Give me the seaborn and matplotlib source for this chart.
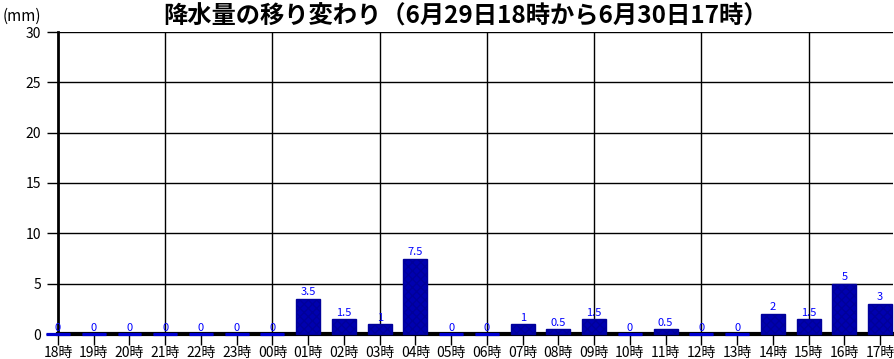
import matplotlib
matplotlib.use("Agg")
import matplotlib.pyplot as plt
import seaborn as sns
import pandas as pd

hours = ["18時", "19時", "20時", "21時", "22時", "23時", "00時", "01時", "02時", "03時",
         "04時", "05時", "06時", "07時", "08時", "09時", "10時", "11時", "12時", "13時",
         "14時", "15時", "16時", "17時"]
rain = [0, 0, 0, 0, 0, 0, 0, 3.5, 1.5, 1, 7.5, 0, 0, 1, 0.5, 1.5, 0, 0.5, 0, 0, 2, 1.5, 5, 3]
title = "降水量の移り変わり（6月29日18時から6月30日17時）"

df = pd.DataFrame({"hour": hours, "rain": rain})

sns.set_style("white")
plt.rcParams["font.family"] = ["Noto Sans CJK JP", "DejaVu Sans"]
plt.rcParams["text.color"] = "black"
plt.rcParams["xtick.color"] = "black"
plt.rcParams["ytick.color"] = "black"

fig = plt.figure(figsize=(8.95, 3.59), dpi=100)
ax = fig.add_axes([58 / 895, 25 / 359, 835 / 895, 302 / 359])

bw = 0.67
sns.barplot(data=df, x="hour", y="rain", color="#0000b0", width=bw,
            saturation=1, ax=ax, zorder=3, edgecolor="#00009a", linewidth=1)
for p in ax.patches:
    p.set_clip_on(False)
    p.set_hatch("xxxx")

# zero-value bars show as a thin blue line on the axis
zero_idx = [i for i, v in enumerate(rain) if v == 0]
ax.hlines([0] * len(zero_idx), [i - bw / 2 for i in zero_idx], [i + bw / 2 for i in zero_idx],
          color="#0000d0", lw=2.3, zorder=5, clip_on=False)

ax.bar_label(ax.containers[0], labels=[f"{v:g}" for v in rain], color="#0000ff",
             fontsize=8, padding=1, zorder=6)

ax.set_xlim(0, 23.36)
ax.set_ylim(0, 30)
ax.set_yticks(range(0, 31, 5))
ax.set_xlabel("")
ax.set_ylabel("")

for y in range(5, 31, 5):
    ax.axhline(y, color="black", lw=1, zorder=1)
for x in range(3, 24, 3):
    ax.axvline(x, color="black", lw=1, zorder=1)

for s in ["top", "right"]:
    ax.spines[s].set_visible(False)
ax.spines["left"].set_linewidth(2)
ax.spines["bottom"].set_linewidth(3)
ax.spines["left"].set_color("black")
ax.spines["bottom"].set_color("black")

ax.tick_params(axis="y", length=8, width=1, labelsize=10, pad=4, left=True)
ax.tick_params(axis="x", length=8, width=1, labelsize=10, pad=1, bottom=True)

fig.text(0.003, 0.955, "(mm)", fontsize=11, ha="left", va="center")
fig.text(0.52, 0.955, title, fontsize=17.5, fontweight="bold", ha="center", va="center")

fig.savefig("out.png", dpi=100)
